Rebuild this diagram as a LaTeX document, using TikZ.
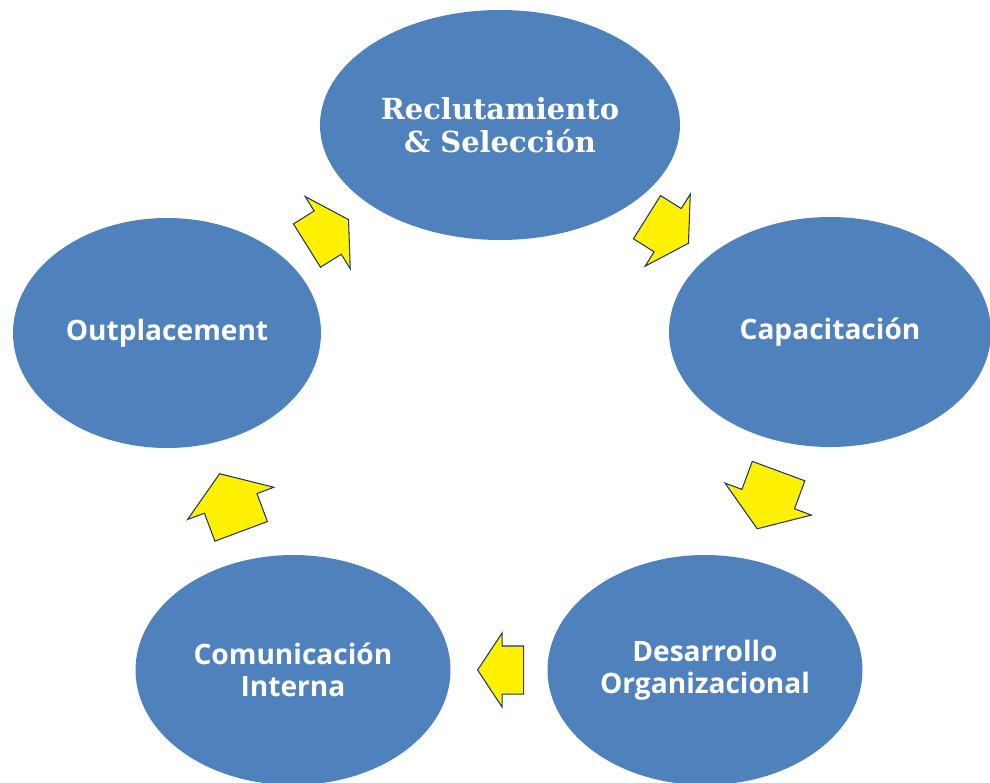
\documentclass[tikz,border=0pt]{standalone}
\usepackage{fontspec}
\setmainfont{Open Sans}
\newfontfamily\headfont{DejaVu Serif}
\usetikzlibrary{shapes.geometric,shapes.arrows}
\definecolor{stageblue}{RGB}{79,129,189}
\definecolor{arrowline}{RGB}{31,56,100}

\begin{document}
\begin{tikzpicture}[
  stage/.style={ellipse, fill=stageblue, draw=none, minimum width=6.3cm, minimum height=4.6cm,
    text=white, align=center, font=\bfseries\fontsize{16}{18.2}\selectfont},
  turn/.style={single arrow, fill=yellow, draw=arrowline, line width=0.6pt,
    inner xsep=0pt, minimum width=0pt, sloped, allow upside down, anchor=tail},
  turn small/.style={turn, inner ysep=0.47cm, minimum height=0.92cm,
    single arrow head extend=0.26cm, single arrow tip angle=113},
  turn mid/.style={turn, inner ysep=0.5cm, minimum height=0.98cm,
    single arrow head extend=0.34cm, single arrow tip angle=120},
  turn big/.style={turn, inner ysep=0.55cm, minimum height=1.23cm,
    single arrow head extend=0.36cm, single arrow tip angle=111}
]
\useasboundingbox (0,0) rectangle (19.8,-15.64);

%Stages of the cycle
\node[stage, minimum width=7.2cm, font=\headfont\bfseries\fontsize{16.5}{18.8}\selectfont] (reclut) at (10.0,-2.5) {Reclutamiento\\\& Selección};
\node[stage, minimum width=6.44cm] (capac) at (16.6,-6.64) {Capacitación};
\node[stage] (desarr) at (14.1,-13.4) {Desarrollo\\Organizacional};
\node[stage] (comun) at (5.86,-13.4) {Comunicación\\Interna};
\node[stage, minimum width=6.16cm] (outpl) at (3.34,-6.66) {Outplacement};

%Block arrows between stages
\path (reclut.center) -- node[turn mid, pos=0.444] (a1) {} (capac.center);
\path (capac.center) -- node[turn big, pos=0.41] (a2) {} (desarr.center);
\path (desarr.center) -- node[turn small, pos=0.439] (a3) {} (comun.center);
\path (comun.center) -- node[turn big, pos=0.41] (a4) {} (outpl.center);
\path (outpl.center) -- node[turn mid, pos=0.419] (a5) {} (reclut.center);
\end{tikzpicture}
\end{document}
